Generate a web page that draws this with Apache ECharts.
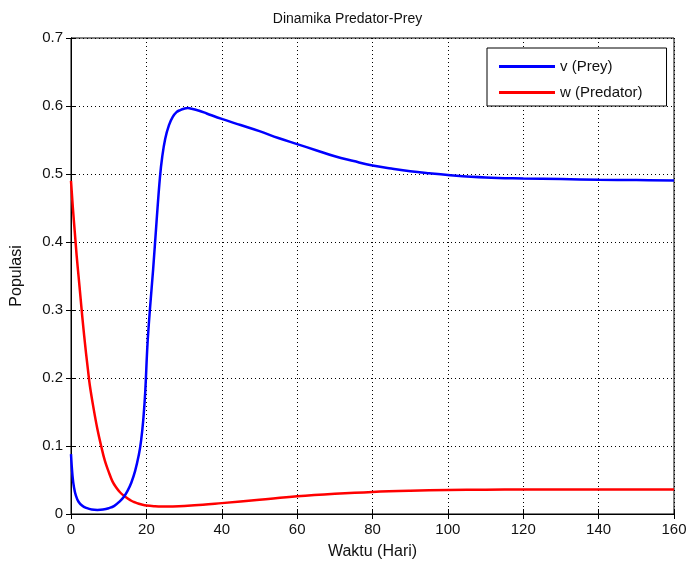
<!DOCTYPE html>
<html>
<head>
<meta charset="utf-8">
<script src="https://cdn.jsdelivr.net/npm/echarts@6/dist/echarts.min.js"></script>
<style>html,body{margin:0;padding:0;background:#fff;}#c{width:695px;height:565px;}</style>
</head>
<body>
<div id="c"></div>
<script>
const xTicks = [0, 20, 40, 60, 80, 100, 120, 140, 160];
const yTicks = [0, 0.1, 0.2, 0.3, 0.4, 0.5, 0.6, 0.7];
const tPrey = [0, 0.4, 0.8, 1.3, 2, 3, 4, 5.5, 7, 8.5, 10, 11.5, 13, 14, 15, 16, 17, 18, 18.6, 19.2, 19.7, 20.3, 21, 21.8, 22.7, 23.6, 24.2, 25, 26, 27, 28, 29, 30, 31, 32, 34, 36, 40, 45, 50, 55, 60, 65, 70, 75, 80, 85, 90, 95, 100, 110, 120, 130, 140, 150, 160];
const prey = [0.088, 0.056, 0.039, 0.027, 0.018, 0.012, 0.009, 0.0065, 0.006, 0.0065, 0.0085, 0.012, 0.019, 0.025, 0.034, 0.046, 0.063, 0.087, 0.108, 0.14, 0.18, 0.25, 0.305, 0.36, 0.43, 0.495, 0.525, 0.552, 0.572, 0.584, 0.591, 0.594, 0.596, 0.597, 0.596, 0.593, 0.589, 0.581, 0.572, 0.563, 0.553, 0.544, 0.535, 0.526, 0.519, 0.5125, 0.508, 0.504, 0.501, 0.4985, 0.495, 0.4935, 0.4925, 0.4915, 0.491, 0.4905];
const tPred = [0, 0.5, 1, 1.5, 2, 2.5, 3, 3.5, 4, 4.5, 5, 6, 7, 8, 9, 10, 11, 12, 13, 14, 15, 16, 17, 18, 19, 20, 22, 24, 27, 30, 35, 40, 50, 60, 70, 80, 90, 100, 110, 120, 140, 160];
const pred = [0.49, 0.45, 0.415, 0.38, 0.35, 0.32, 0.29, 0.262, 0.236, 0.212, 0.189, 0.155, 0.125, 0.1, 0.078, 0.062, 0.048, 0.039, 0.032, 0.027, 0.023, 0.0195, 0.017, 0.015, 0.0135, 0.0125, 0.0115, 0.011, 0.0112, 0.0118, 0.0135, 0.016, 0.021, 0.026, 0.0297, 0.0325, 0.0342, 0.0352, 0.0357, 0.036, 0.036, 0.036];

const preyData = tPrey.map((t, i) => [t, prey[i]]);
const predData = tPred.map((t, i) => [t, pred[i]]);
const FONT = 'Liberation Sans';
const chart = echarts.init(document.getElementById('c'), null, {renderer: 'canvas'});
const tickStyle = {show: true, inside: true, length: 5, lineStyle: {color: '#000', width: 1}};
chart.setOption({
  backgroundColor: '#fff',
  animation: false,
  textStyle: {fontFamily: FONT},
  title: {
    text: 'Dinamika Predator-Prey',
    left: 'center', top: 7,
    textStyle: {fontFamily: FONT, fontSize: 14, fontWeight: 'normal', color: '#111'}
  },
  legend: {
    orient: 'vertical',
    left: 487, top: 48,
    padding: [10, 24, 5, 12],
    itemGap: 9,
    itemWidth: 56, itemHeight: 3,
    icon: 'rect',
    backgroundColor: '#fff',
    borderColor: '#000', borderWidth: 1, borderRadius: 0,
    textStyle: {fontFamily: FONT, fontSize: 15, color: '#111', lineHeight: 17},
    data: ['v (Prey)', 'w (Predator)']
  },
  grid: {left: 71, right: 21, top: 38, bottom: 50, show: true, borderColor: '#000', borderWidth: 1, containLabel: false},
  xAxis: [{
    type: 'value', min: xTicks[0], max: xTicks[xTicks.length - 1], interval: 20,
    name: 'Waktu (Hari)', nameLocation: 'middle', nameGap: 30,
    nameTextStyle: {fontFamily: FONT, fontSize: 16, color: '#111'},
    axisLine: {show: true, lineStyle: {color: '#000', width: 1}},
    axisTick: tickStyle,
    axisLabel: {fontFamily: FONT, fontSize: 15, color: '#111', margin: 8},
    splitLine: {show: true, lineStyle: {color: '#000', width: 1, type: [1, 3]}}
  }, {
    type: 'value', position: 'top', min: xTicks[0], max: xTicks[xTicks.length - 1], interval: 20,
    axisLine: {show: true, lineStyle: {color: '#000', width: 1}},
    axisTick: tickStyle, axisLabel: {show: false}, splitLine: {show: false}
  }],
  yAxis: [{
    type: 'value', min: yTicks[0], max: yTicks[yTicks.length - 1], interval: 0.1,
    name: 'Populasi', nameLocation: 'middle', nameGap: 46, nameRotate: 90,
    nameTextStyle: {fontFamily: FONT, fontSize: 16, color: '#111'},
    axisLine: {show: true, lineStyle: {color: '#000', width: 1}},
    axisTick: tickStyle,
    axisLabel: {fontFamily: FONT, fontSize: 15, color: '#111', margin: 8},
    splitLine: {show: true, lineStyle: {color: '#000', width: 1, type: [1, 3]}}
  }, {
    type: 'value', position: 'right', min: yTicks[0], max: yTicks[yTicks.length - 1], interval: 0.1,
    axisLine: {show: true, lineStyle: {color: '#000', width: 1}},
    axisTick: tickStyle, axisLabel: {show: false}, splitLine: {show: false}
  }],
  series: [{
    name: 'v (Prey)', type: 'line', data: preyData, showSymbol: false, smooth: 0.4,
    lineStyle: {color: '#0000ff', width: 2.5}, itemStyle: {color: '#0000ff'}, z: 3
  }, {
    name: 'w (Predator)', type: 'line', data: predData, showSymbol: false, smooth: 0.4,
    lineStyle: {color: '#ff0000', width: 2.5}, itemStyle: {color: '#ff0000'}, z: 2
  }]
});
</script>
</body>
</html>
